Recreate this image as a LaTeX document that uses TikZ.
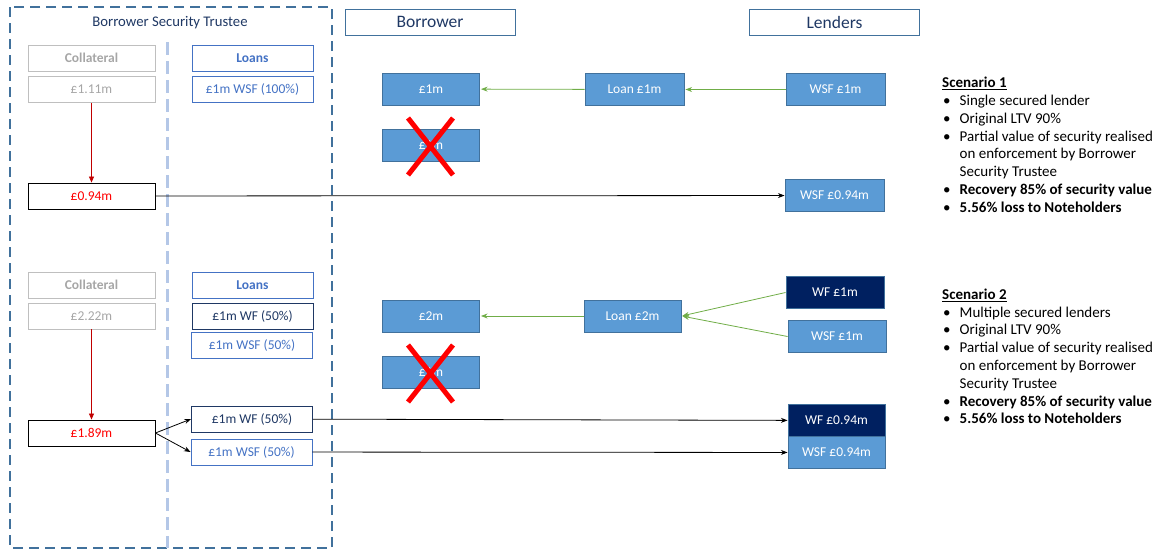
\documentclass[tikz,border=0pt]{standalone}
\usepackage{fontspec}
\setmainfont{Carlito}
\usepackage{tikz}
\usetikzlibrary{positioning, arrows.meta}
\definecolor{steel}{HTML}{41719C}
\definecolor{paleblue}{HTML}{B4C7E7}
\definecolor{midblue}{HTML}{5B9BD5}
\definecolor{linkblue}{HTML}{4472C4}
\definecolor{navy}{HTML}{1F3864}
\definecolor{deepnavy}{HTML}{002060}
\definecolor{leaf}{HTML}{70AD47}
\definecolor{darkred}{HTML}{C00000}
\definecolor{greyline}{HTML}{BFBFBF}
\definecolor{greytext}{HTML}{A6A6A6}
\tikzset{>=Stealth, % arrow heads
boxfont/.style={font=\fontsize{13.5}{16}\selectfont}, % text in the boxes
box/.style={draw, boxfont, inner sep=0pt, minimum height=26pt, line width=0.9pt}, % outlined boxes
greybox/.style={box, draw=greyline, text=greytext, minimum width=127pt}, % collateral column
loanbox/.style={box, draw=linkblue, text=linkblue, minimum width=121pt}, % loans column
wfbox/.style={box, draw=navy, text=navy, minimum width=121pt}, % WF loan
valuebox/.style={box, draw=black, text=red, minimum width=127pt}, % realised value
head/.style={draw=steel, line width=0.9pt, text=navy, font=\fontsize{17.5}{20}\selectfont, minimum width=170pt, minimum height=26pt, inner sep=0pt}, % column headings
party/.style={boxfont, draw=steel, fill=midblue, text=white, line width=0.9pt, minimum width=97pt, minimum height=32pt, inner sep=0pt}, % filled boxes
navyparty/.style={party, fill=deepnavy, draw=steel}, % filled WF boxes
flow/.style={->, leaf, line width=0.8pt, shorten >=1pt}, % funding arrows
pay/.style={->, black, line width=0.8pt}, % recovery arrows
drop/.style={-{Triangle[length=6pt,width=5pt]}, darkred, line width=0.8pt}, % collateral loss
cross/.style={red, line width=5pt}, % crossed out
notes/.style={anchor=north west, inner sep=0pt, align=left, font=\fontsize{15}{17.8}\selectfont}, % scenario notes
}
\newcommand{\pt}{\makebox[17.5pt][l]{\hspace{1pt}\textbullet}}
\newcommand{\ind}{\hspace*{17.5pt}}

\begin{document}
\begin{tikzpicture}[x=1pt, y=-1pt]
\useasboundingbox (0,0) rectangle (1163,552);

% trustee frame
\draw[steel, line width=2.6pt, dash pattern=on 10pt off 6pt] (10,7) rectangle (332,548);
\draw[paleblue, line width=3pt, dash pattern=on 13pt off 6pt] (167,42) -- (167,548);
\node[text=navy, font=\fontsize{14.7}{17}\selectfont] (bst) at (170,23) {Borrower Security Trustee};

% headings
\node[head] (borrower) at (430,22) {Borrower};
\node[head] (lenders) at (834.5,22) {Lenders};

% scenario 1
\node[greybox, font=\fontsize{13.5}{16}\bfseries] (colA) at (91.5,58) {Collateral};
\node[greybox] (valA) at (91.5,89.5) {£1.11m};
\node[loanbox, font=\fontsize{13.5}{16}\bfseries] (loansA) at (252.5,58) {Loans};
\node[loanbox] (wsfA) at (252.5,89.5) {£1m WSF (100\%)};
\node[valuebox] (recA) at (91.5,196) {£0.94m};

\node[party] (bA) at (431,89) {£1m};
\node[party] (bxA) at (431,145) {£1m};
\node[party, minimum width=99pt] (loanA) at (634.5,89.5) {Loan £1m};
\node[party, minimum width=99pt] (lwsfA) at (835.5,89.5) {WSF £1m};
\node[party, minimum width=99pt] (outA) at (834.5,195.5) {WSF £0.94m};
\draw[cross] (408,118) -- (453,175) (453,118) -- (408,175);

\draw[drop] (valA) -- (recA);
\draw[pay] (recA) -- (outA);
\draw[flow] (lwsfA) -- (loanA);
\draw[flow] (loanA) -- (bA);

\node[notes] (noteA) at (942,77) {\underline{\textbf{Scenario 1}}\\
\pt Single secured lender\\
\pt Original LTV 90\%\\
\pt Partial value of security realised\\
\ind on enforcement by Borrower\\
\ind Security Trustee\\
\pt\textbf{Recovery 85\% of security value}\\
\pt\textbf{5.56\% loss to Noteholders}};

% scenario 2
\node[greybox, font=\fontsize{13.5}{16}\bfseries] (colB) at (91.5,285) {Collateral};
\node[greybox] (valB) at (91.5,316) {£2.22m};
\node[loanbox, font=\fontsize{13.5}{16}\bfseries] (loansB) at (252.5,285) {Loans};
\node[wfbox, font=\fontsize{13.5}{16}\selectfont] (wfB) at (252.5,316) {£1m WF (50\%)};
\node[loanbox] (wsfB) at (252,345) {£1m WSF (50\%)};
\node[valuebox] (recB) at (91.5,433) {£1.89m};
\node[wfbox] (wfC) at (252,419) {£1m WF (50\%)};
\node[loanbox] (wsfC) at (251.5,452) {£1m WSF (50\%)};

\node[party] (bB) at (431,316) {£2m};
\node[party] (bxB) at (431,372) {£1m};
\node[party] (loanB) at (632.5,316) {Loan £2m};
\node[navyparty, minimum width=98pt] (lwfB) at (835,292.5) {WF £1m};
\node[party, minimum width=98pt] (lwsfB) at (837,336.5) {WSF £1m};
\node[navyparty] (outB) at (836.5,420.5) {WF £0.94m};
\node[party] (outC) at (836.5,452.5) {WSF £0.94m};
\draw[cross] (408,345) -- (453,402) (453,345) -- (408,402);

\draw[drop] (valB) -- (recB);
\draw[pay] (recB.east) -- (wfC.west);
\draw[pay] (recB.east) -- (wsfC.west);
\draw[pay] (wfC) -- (outB);
\draw[pay] (wsfC) -- (outC);
\draw[flow] (lwfB.west) -- (loanB.east);
\draw[flow] (lwsfB.west) -- (loanB.east);
\draw[flow] (loanB) -- (bB);

\node[notes] (noteB) at (942,288.5) {\underline{\textbf{Scenario 2}}\\
\pt Multiple secured lenders\\
\pt Original LTV 90\%\\
\pt Partial value of security realised\\
\ind on enforcement by Borrower\\
\ind Security Trustee\\
\pt\textbf{Recovery 85\% of security value}\\
\pt\textbf{5.56\% loss to Noteholders}};
\end{tikzpicture}
\end{document}
